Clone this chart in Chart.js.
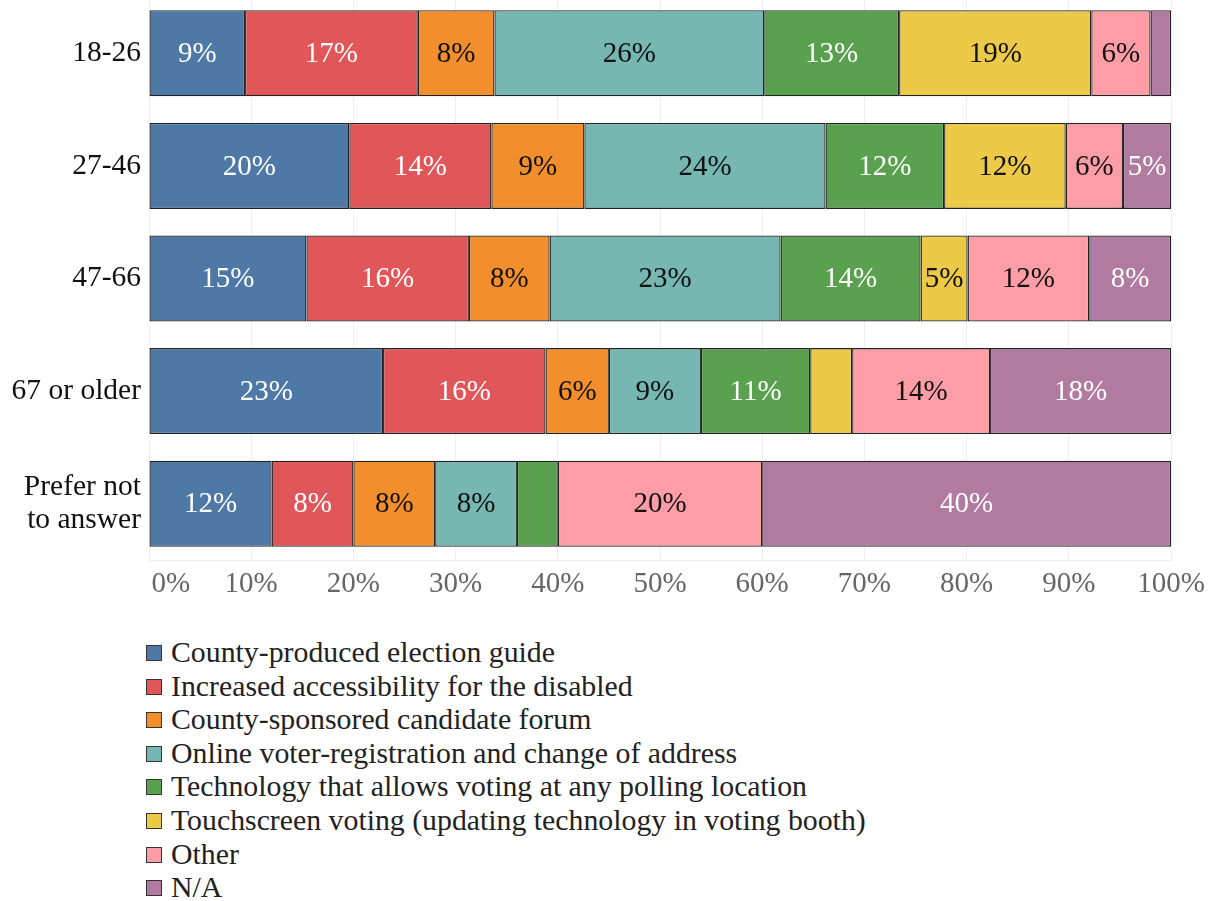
<!DOCTYPE html>
<html>
<head>
<meta charset="utf-8">
<script src="https://cdn.jsdelivr.net/npm/chart.js@4"></script>
<style>
  body { margin: 0; background: #fff; font-family: "Liberation Serif", "Times New Roman", serif; overflow: hidden; }
  #wrap { position: relative; width: 1215px; height: 613px; margin-top: -3px; }
  #legend { list-style: none; margin: 0; padding: 0; position: absolute; left: 146px; top: 635px; }
  #legend li { height: 33.6px; line-height: 33.6px; font-size: 29.8px; color: #222; white-space: nowrap; }
  #legend span { display: inline-block; width: 14px; height: 14px; border: 1.5px solid #333; margin-right: 9px; vertical-align: 1px; }
</style>
</head>
<body>
<div id="wrap"><canvas id="barChart"></canvas></div>
<ul id="legend"></ul>
<script>
// age groups (one bar each)
const ageGroups = ['18-26', '27-46', '47-66', '67 or older', ['Prefer not', 'to answer']];

// share of respondents per option, in percent, one value per age group
const electionGuide  = [9.4, 19.6, 15.4, 22.9, 12];
const accessibility  = [16.9, 13.9, 15.9, 15.9, 8];
const candidateForum = [7.5, 9.1, 7.9, 6.2, 8];
const onlineRegister = [26.4, 23.6, 22.6, 9.0, 8];
const anyLocation    = [13.2, 11.6, 13.7, 10.7, 4];
const touchscreen    = [18.8, 11.9, 4.6, 4.1, 0];
const otherOption    = [5.8, 5.6, 11.9, 13.5, 20];
const notApplicable  = [2.0, 4.7, 8.0, 17.7, 40];

const seriesNames = [
  'County-produced election guide',
  'Increased accessibility for the disabled',
  'County-sponsored candidate forum',
  'Online voter-registration and change of address',
  'Technology that allows voting at any polling location',
  'Touchscreen voting (updating technology in voting booth)',
  'Other',
  'N/A'
];
const seriesValues = [electionGuide, accessibility, candidateForum, onlineRegister,
                      anyLocation, touchscreen, otherOption, notApplicable];
const seriesColors = ['#4e79a7', '#e15759', '#f28e2b', '#76b7b2', '#59a14f', '#edc948', '#ff9da7', '#b07aa1'];
const labelColors  = ['#fff', '#fff', '#111', '#111', '#fff', '#111', '#111', '#fff'];

const xTicks = [0, 10, 20, 30, 40, 50, 60, 70, 80, 90, 100];

const serif = '"Liberation Serif", "Times New Roman", serif';

// writes the rounded percentage inside each segment that is wide enough
const segmentLabels = {
  id: 'segmentLabels',
  afterDatasetsDraw(chart) {
    const ctx = chart.ctx;
    ctx.save();
    ctx.font = '29px ' + serif;
    ctx.textAlign = 'center';
    ctx.textBaseline = 'middle';
    chart.data.datasets.forEach((ds, i) => {
      chart.getDatasetMeta(i).data.forEach((bar, j) => {
        const v = ds.data[j];
        if (Math.round(v) < 5) return;
        ctx.fillStyle = labelColors[i];
        ctx.fillText(Math.round(v) + '%', (bar.x + bar.base) / 2, bar.y + 1);
      });
    });
    ctx.restore();
  }
};

const ctx = document.getElementById('barChart').getContext('2d');
new Chart(ctx, {
  type: 'bar',
  data: {
    labels: ageGroups,
    datasets: seriesNames.map((name, i) => ({
      label: name,
      data: seriesValues[i],
      backgroundColor: seriesColors[i],
      borderColor: '#222',
      borderWidth: 1.3,
      borderSkipped: false,
      categoryPercentage: 0.764,
      barPercentage: 1
    }))
  },
  options: {
    indexAxis: 'y',
    responsive: true,
    maintainAspectRatio: false,
    animation: false,
    layout: { padding: { top: 0, right: 44, bottom: 0, left: 0 } },
    plugins: {
      legend: { display: false },
      tooltip: { enabled: false }
    },
    scales: {
      x: {
        stacked: true,
        min: 0,
        max: 100,
        afterBuildTicks: (axis) => { axis.ticks = xTicks.map(v => ({ value: v })); },
        ticks: {
          // the 0% label sits just right of the axis start
          callback: (v) => (v === 0 ? '      ' : '') + v + '%',
          color: '#666',
          font: { family: serif, size: 29 },
          padding: 7,
          maxRotation: 0
        },
        grid: { color: '#efefef', drawTicks: false },
        border: { color: '#efefef' },
        afterFit: (axis) => { axis.height = 50; }
      },
      y: {
        stacked: true,
        ticks: {
          color: '#111',
          font: { family: serif, size: 29.5, lineHeight: 1.1 },
          padding: 8
        },
        grid: { display: false, drawTicks: false },
        border: { display: false },
        afterFit: (axis) => {
          axis.width = 149;
          axis.paddingTop = 0;
          axis.paddingBottom = 0;
        }
      }
    }
  },
  plugins: [segmentLabels]
});

// legend listing every option in a single column
const legend = document.getElementById('legend');
seriesNames.forEach((name, i) => {
  const li = document.createElement('li');
  const box = document.createElement('span');
  box.style.background = seriesColors[i];
  li.appendChild(box);
  li.appendChild(document.createTextNode(name));
  legend.appendChild(li);
});
</script>
</body>
</html>
